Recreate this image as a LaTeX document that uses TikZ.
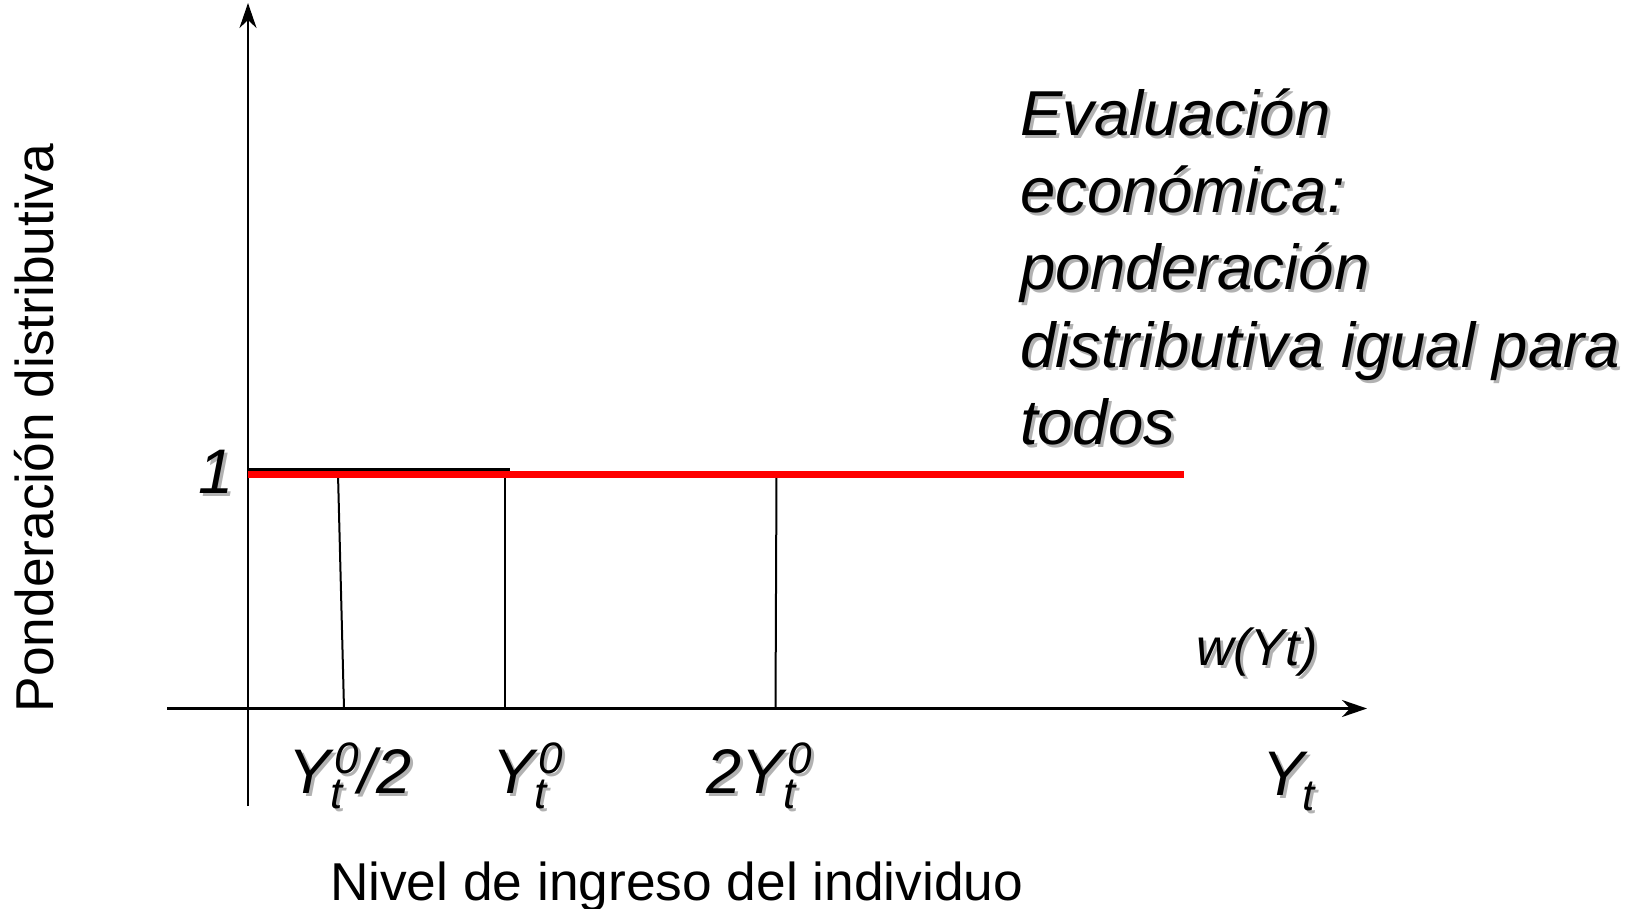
\documentclass[tikz,border=0pt]{standalone}
\usepackage{fontspec}
\setmainfont{Liberation Sans}
\usetikzlibrary{arrows.meta}
\definecolor{shadowgray}{RGB}{178,178,178}
\definecolor{linered}{RGB}{255,0,0}
\newcommand\subfnt{\fontsize{44}{44}\selectfont}
\newcommand\Ytz{Y\rlap{\raisebox{-15pt}{\subfnt t}}\kern4pt\raisebox{20pt}{\subfnt 0}}
\newcommand\Yts{Y\kern-2pt\raisebox{-15pt}{\subfnt t}}
\tikzset{
  txt/.style={inner sep=0pt, outer sep=0pt},
  big/.style={txt, font=\fontsize{63.5}{77}\selectfont\itshape, anchor=base west},
  tick/.style={txt, font=\fontsize{63}{63}\selectfont\itshape},
  plain/.style={txt, font=\fontsize{53.3}{53}\selectfont},
  shad/.style={text=shadowgray, xshift=3pt, yshift=-3pt},
  axis/.style={line width=2.5pt, -{Stealth[length=25pt,width=17pt,inset=8pt]}},
  thin/.style={line width=2pt},
}
\begin{document}
\begin{tikzpicture}[x=1pt,y=-1pt]
\useasboundingbox (0,0) rectangle (1641,909);
% key points
\coordinate (ybot) at (248,806);
\coordinate (ytop) at (248,3);
\coordinate (xl) at (167,708.5);
\coordinate (xr) at (1367,708.5);
\coordinate (v1t) at (338,474);
\coordinate (v1b) at (344,708.5);
\coordinate (v2t) at (504.5,474);
\coordinate (v2b) at (504.5,708.5);
\coordinate (v3t) at (776.5,474);
\coordinate (v3b) at (775.5,708.5);
\coordinate (bl) at (248,469.5);
\coordinate (br) at (510,469.5);
\coordinate (rl) at (248,474.5);
\coordinate (rr) at (1184,474.5);
% axes
\draw[axis] (ybot) -- (ytop);
\draw[axis] (xl) -- (xr);
% verticals
\draw[thin] (v1t) -- (v1b);
\draw[thin] (v2t) -- (v2b);
\draw[thin] (v3t) -- (v3b);
% horizontal lines
\draw[line width=2.5pt] (bl) -- (br);
\draw[linered, line width=7pt] (rl) -- (rr);
% title block
\node[big, shad] (t1s) at (1020,136) {Evaluación};
\node[big] (t1) at (1020,136) {Evaluación};
\node[big, shad] (t2s) at (1020,213) {económica:};
\node[big] (t2) at (1020,213) {económica:};
\node[big, shad] (t3s) at (1020,290) {ponderación};
\node[big] (t3) at (1020,290) {ponderación};
\node[big, shad] (t4s) at (1020,367) {distributiva igual para};
\node[big] (t4) at (1020,367) {distributiva igual para};
\node[big, shad] (t5s) at (1020,444) {todos};
\node[big] (t5) at (1020,444) {todos};
% tick labels
\node[tick, anchor=base east, shad] (ones) at (234,493) {1};
\node[tick, anchor=base east] (one) at (234,493) {1};
\node[tick, anchor=base west, shad] (h1s) at (288,793) {\Ytz/2};
\node[tick, anchor=base west] (h1) at (288,793) {\Ytz/2};
\node[tick, anchor=base west, shad] (h2s) at (492,793) {\Ytz};
\node[tick, anchor=base west] (h2) at (492,793) {\Ytz};
\node[tick, anchor=base west, shad] (h3s) at (706,793) {2\Ytz};
\node[tick, anchor=base west] (h3) at (706,793) {2\Ytz};
\node[tick, anchor=base west, shad] (yts) at (1262,795) {\Yts};
\node[tick, anchor=base west] (yt) at (1262,795) {\Yts};
\node[txt, font=\fontsize{52}{52}\selectfont\itshape, anchor=base west, shad] (ws) at (1196,665) {w(Yt)};
\node[txt, font=\fontsize{52}{52}\selectfont\itshape, anchor=base west] (w) at (1196,665) {w(Yt)};
% axis titles
\node[plain, anchor=base, rotate=90] (ylab) at (53,428) {Ponderación distributiva};
\node[plain, anchor=base west] (xlab) at (330,900) {Nivel de ingreso del individuo};
\end{tikzpicture}
\end{document}
